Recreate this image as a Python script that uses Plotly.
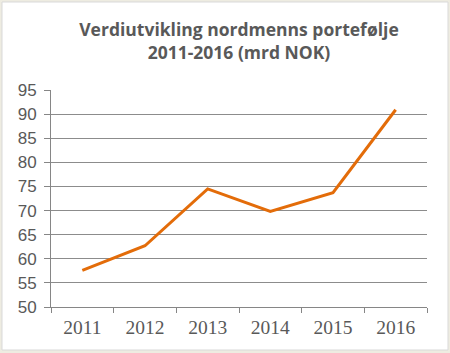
import plotly.graph_objects as go

years = ["2011", "2012", "2013", "2014", "2015", "2016"]
values = [57.6, 62.7, 74.5, 69.8, 73.7, 90.9]
title_text = "Verdiutvikling nordmenns portefølje<br>2011-2016 (mrd NOK)"

fig = go.Figure()
fig.add_trace(go.Scatter(
    x=years, y=values, mode="lines",
    line=dict(color="#E36C09", width=3),
    hoverinfo="skip",
))

L, R, T, B = 51, 23, 90, 46
W, H = 450, 353
pw, ph = W - L - R, H - T - B

fig.update_layout(
    width=W, height=H,
    margin=dict(l=L, r=R, t=T, b=B),
    paper_bgcolor="#EEECE1",
    plot_bgcolor="white",
    showlegend=False,
    title=dict(
        text=title_text,
        x=0.5, xanchor="center", xref="paper",
        y=1 - 36 / H, yanchor="middle",
        font=dict(family="Open Sans", size=17.5, color="#595959", weight="bold"),
    ),
    shapes=[dict(
        type="rect", xref="paper", yref="paper", layer="below",
        x0=(2 - L) / pw, x1=(448 - L) / pw,
        y0=(H - B - 350) / ph, y1=(H - B - 2) / ph,
        fillcolor="white", line=dict(color="#D9D9D9", width=1),
    )],
    xaxis=dict(
        type="category",
        showgrid=False,
        showline=True, linecolor="#868686", linewidth=1,
        ticks="outside", ticklen=5, tickcolor="#868686",
        tickson="boundaries",
        ticklabelstandoff=3,
        tickfont=dict(family="Liberation Serif", size=19.5, color="#595959"),
        range=[-0.5, 5.5],
    ),
    yaxis=dict(
        range=[50, 95],
        tickvals=[50, 55, 60, 65, 70, 75, 80, 85, 90, 95],
        showgrid=True, gridcolor="#8C8C8C", gridwidth=1,
        showline=True, linecolor="#868686", linewidth=1,
        ticks="outside", ticklen=6, tickcolor="#868686",
        ticklabelstandoff=4,
        tickfont=dict(family="Liberation Sans", size=17, color="#595959"),
        zeroline=False,
    ),
)

fig.write_html("out.html")
